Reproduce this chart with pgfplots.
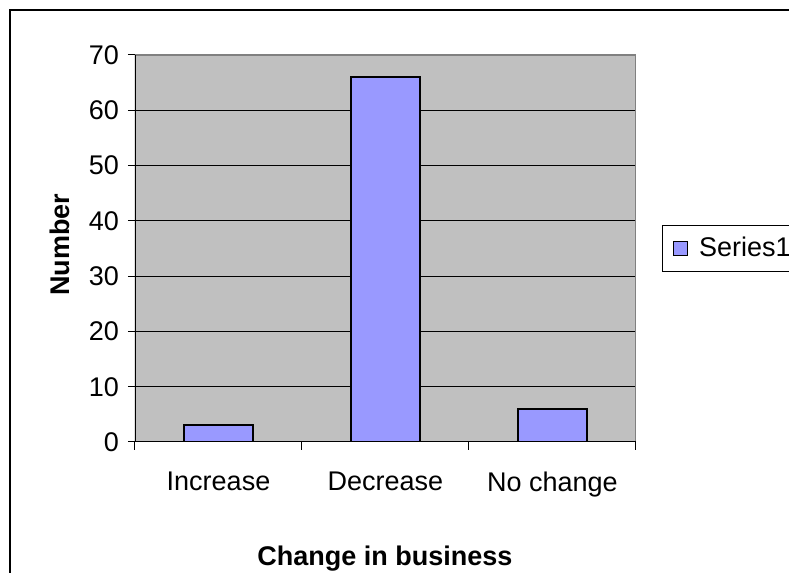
\documentclass[border=0pt]{standalone}
\usepackage{pgfplots}
\pgfplotsset{compat=1.18}
\usepackage{fontspec}
\setmainfont{Liberation Sans}
\definecolor{plotgray}{HTML}{C0C0C0}
\definecolor{barblue}{HTML}{9999FF}
\definecolor{bordergray}{HTML}{808080}
\begin{document}
\begin{tikzpicture}
\useasboundingbox (0pt,0pt) rectangle (394.5pt,286.5pt);
\draw[black, line width=1.2pt] (5pt,0pt) -- (5pt,281.5pt) -- (394.5pt,281.5pt);
\begin{axis}[
  at={(67.5pt,65.5pt)}, anchor=south west,
  scale only axis, width=250.5pt, height=193.5pt,
  xmin=-0.5, xmax=2.5, ymin=0, ymax=70,
  xtick={0,1,2}, xticklabels={Increase,Decrease,No change},
  minor xtick={-0.5,0.5,1.5,2.5},
  ytick={0,10,...,70},
  xtick pos=bottom, ytick pos=left,
  tick align=outside,
  major tick length=3.5pt, minor tick length=4pt,
  major x tick style={draw=none},
  every minor tick/.style={black, line width=0.5pt},
  every major tick/.style={black, line width=0.5pt},
  ymajorgrids, grid style={black, line width=0.5pt},
  axis line style={draw=none},
  axis background/.style={fill=plotgray},
  /pgf/number format/assume math mode=true,
  tick label style={font=\fontsize{13.5}{16}\selectfont, black},
  xticklabel style={yshift=-8pt},
  yticklabel style={xshift=-1pt},
  xlabel={Change in business}, ylabel={Number},
  label style={font=\fontsize{13.5}{16}\selectfont\bfseries},
  xlabel style={at={(axis description cs:0.499,-0.318)}, anchor=base},
  ylabel style={at={(axis description cs:-0.15,0.51)}, anchor=center},
  legend style={at={(axis description cs:1.052,0.562)}, anchor=north west,
    draw=black, line width=0.5pt, fill=white,
    font=\fontsize{13.5}{16}\selectfont, inner xsep=5pt, inner ysep=4pt},
  legend image code/.code={\draw[fill=barblue, draw=black, line width=0.6pt] (0pt,-3.5pt) rectangle (7pt,3.5pt); \path (10.5pt,0pt);},
]
\addplot[ybar, bar width=0.416, fill=barblue, draw=black, line width=1pt] coordinates {(0,3) (1,66) (2,6)};
\addlegendentry{Series1\hspace{10pt}}
\draw[bordergray, line width=1pt] (rel axis cs:0,1) -- (rel axis cs:1,1) -- (rel axis cs:1,0);
\draw[black, line width=0.6pt] (rel axis cs:0,1) -- (rel axis cs:0,0) -- (rel axis cs:1,0);
\end{axis}
\end{tikzpicture}
\end{document}
